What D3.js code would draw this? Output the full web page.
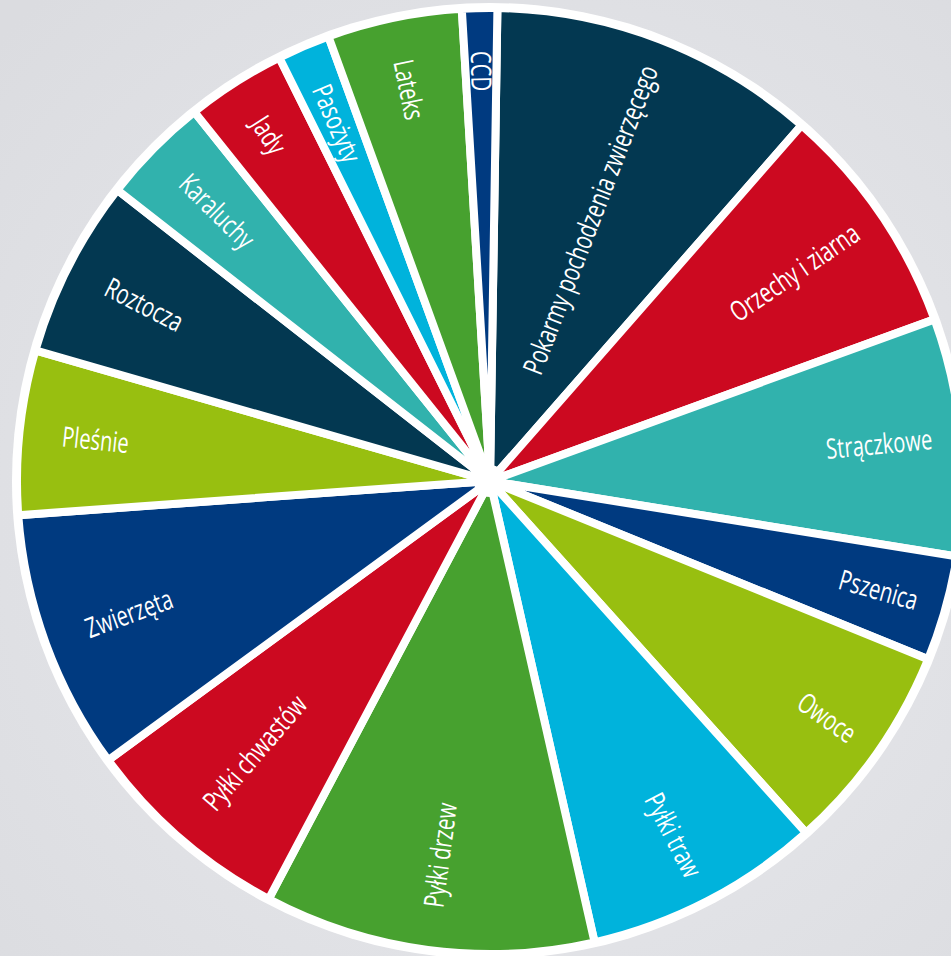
<!DOCTYPE html>
<html>
<head>
<meta charset="utf-8">
<script src="https://cdn.jsdelivr.net/npm/d3@7"></script>
<style>
  body { margin: 0; padding: 0; background: #e3e4e8; overflow: hidden; }
  svg { display: block; }
</style>
</head>
<body>
<script>
// grupy alergenów i ich udział (w %)
var kategorie = ["Pokarmy pochodzenia zwierzęcego", "Orzechy i ziarna", "Strączkowe", "Pszenica",
                 "Owoce", "Pyłki traw", "Pyłki drzew", "Pyłki chwastów", "Zwierzęta", "Pleśnie",
                 "Roztocza", "Karaluchy", "Jady", "Pasożyty", "Lateks", "CCD"];
var wartosci = [11.2, 8.0, 8.1, 3.6, 7.2, 8.1, 11.3, 7.2, 8.9, 5.6, 6.1, 3.7, 3.4, 1.8, 4.6, 1.2];
var kolory = ["#033851", "#cc0920", "#31b2ad", "#003a80", "#98bf10", "#00b3dc", "#47a12f", "#cc0920",
              "#003a80", "#98bf10", "#033851", "#31b2ad", "#cc0920", "#00b3dc", "#47a12f", "#003a80"];

var width = 951,
    height = 956,
    cx = 490,
    cy = 481,
    radius = 473;

var dane = kategorie.map(function(k, i) { return {name: k, value: wartosci[i]}; });

var svg = d3.select("body").append("svg")
    .attr("width", width)
    .attr("height", height);

var defs = svg.append("defs");
var grad = defs.append("radialGradient").attr("id", "tlo")
    .attr("cx", "55%").attr("cy", "55%").attr("r", "75%");
grad.append("stop").attr("offset", "0%").attr("stop-color", "#eaebef");
grad.append("stop").attr("offset", "100%").attr("stop-color", "#dbdce0");

svg.append("rect")
    .attr("width", width)
    .attr("height", height)
    .attr("fill", "url(#tlo)");

var g = svg.append("g").attr("transform", "translate(" + cx + "," + cy + ")");

// biała obwódka pod wycinkami
g.append("circle")
    .attr("r", radius + 5)
    .attr("fill", "#fff");

var start = 0.9 * Math.PI / 180;
var pie = d3.pie()
    .sort(null)
    .value(function(d) { return d.value; })
    .startAngle(start)
    .endAngle(start + 2 * Math.PI);

var arc = d3.arc().innerRadius(0).outerRadius(radius);
var color = d3.scaleOrdinal().domain(kategorie).range(kolory);

var slices = g.selectAll(".slice")
    .data(pie(dane))
    .enter().append("g")
    .attr("class", "slice");

slices.append("path")
    .attr("d", arc)
    .attr("fill", function(d) { return color(d.data.name); })
    .attr("stroke", "#fff")
    .attr("stroke-width", 8)
    .attr("stroke-linejoin", "round");

g.append("circle")
    .attr("r", 16)
    .attr("fill", "#fff");

// etykiety wzdłuż promienia, koniec tekstu przy krawędzi
var sx = 0.72;
slices.append("text")
    .attr("transform", function(d) {
        var mid = (d.startAngle + d.endAngle) / 2 * 180 / Math.PI;
        var R = mid < 180 ? 444 : 430;
        var p = d3.arc().innerRadius(R).outerRadius(R).centroid(d);
        var rot = mid < 180 ? mid - 90 : mid + 90;
        return "translate(" + p[0] + "," + p[1] + ") rotate(" + rot + ") scale(" + sx + ",1)";
    })
    .attr("text-anchor", function(d) {
        var mid = (d.startAngle + d.endAngle) / 2 * 180 / Math.PI;
        return mid < 180 ? "end" : "start";
    })
    .attr("dy", "0.35em")
    .style("font-family", "'Open Sans', sans-serif")
    .style("font-size", "28px")
    .attr("fill", "#fff")
    .text(function(d) { return d.data.name; });
</script>
</body>
</html>
